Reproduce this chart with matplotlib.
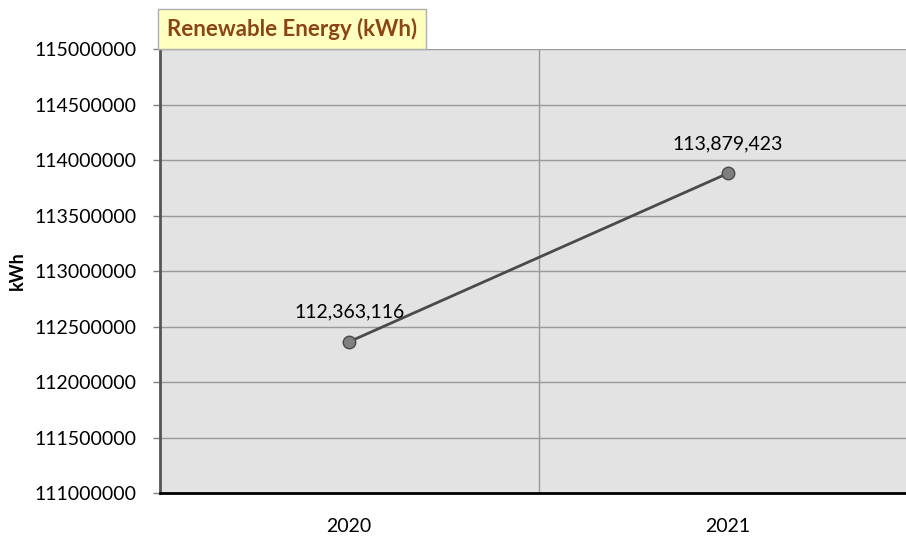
import matplotlib
matplotlib.use("Agg")
import matplotlib.pyplot as plt
from matplotlib.ticker import MultipleLocator, FuncFormatter

years = ["2020", "2021"]
energy_kwh = [112363116, 113879423]
y_min, y_max, y_step = 111000000, 115000000, 500000

plt.rcParams['font.family'] = ['Lato', 'DejaVu Sans']

fig = plt.figure(figsize=(9.06, 5.36), dpi=100)
ax = fig.add_axes([160 / 906, 43 / 536, 757 / 906, 444 / 536])
ax.set_facecolor('#e3e3e3')

x = list(range(len(years)))
ax.set_xlim(-0.5, len(years) - 0.5)
ax.set_ylim(y_min, y_max)
ax.yaxis.set_major_locator(MultipleLocator(y_step))
ax.yaxis.set_major_formatter(FuncFormatter(lambda v, p: f"{int(round(v))}"))

# horizontal gridlines at every tick, vertical line between categories
ax.grid(axis='y', color='#9a9a9a', linewidth=1.0)
for b in range(1, len(years)):
    ax.axvline(b - 0.5, color='#9a9a9a', linewidth=1.0, zorder=1)
ax.set_axisbelow(True)

ax.plot(x, energy_kwh, color='#4a4a4a', linewidth=2, marker='o', markersize=9,
        markerfacecolor='#7f7f7f', markeredgecolor='#4a4a4a', markeredgewidth=1,
        zorder=3)

for xi, v in zip(x, energy_kwh):
    ax.annotate(f"{v:,}", (xi, v), xytext=(0, 15), textcoords='offset points',
                ha='center', va='bottom', fontsize=14, color='#000000')

ax.set_xticks(x)
ax.set_xticklabels(years, fontsize=14)
ax.tick_params(axis='x', length=0, pad=18)
ax.tick_params(axis='y', length=5, width=1, color='#808080', labelsize=14, pad=12)

for s in ['top', 'right']:
    ax.spines[s].set_visible(False)
ax.spines['left'].set_color('#555555')
ax.spines['left'].set_linewidth(2)
ax.spines['bottom'].set_color('#000000')
ax.spines['bottom'].set_linewidth(2)

ax.set_ylabel('kWh', fontsize=13, fontweight='bold')
ax.yaxis.set_label_coords(-0.177, 0.5)

fig.text(167 / 906, 1 - 29 / 536, 'Renewable Energy (kWh)', fontsize=16,
         fontweight='bold', color='#8b4513', ha='left', va='center',
         bbox=dict(boxstyle='square,pad=0.4', facecolor='#ffffc0',
                   edgecolor='#b0b0b0', linewidth=1))

fig.savefig('out.png', dpi=100)
